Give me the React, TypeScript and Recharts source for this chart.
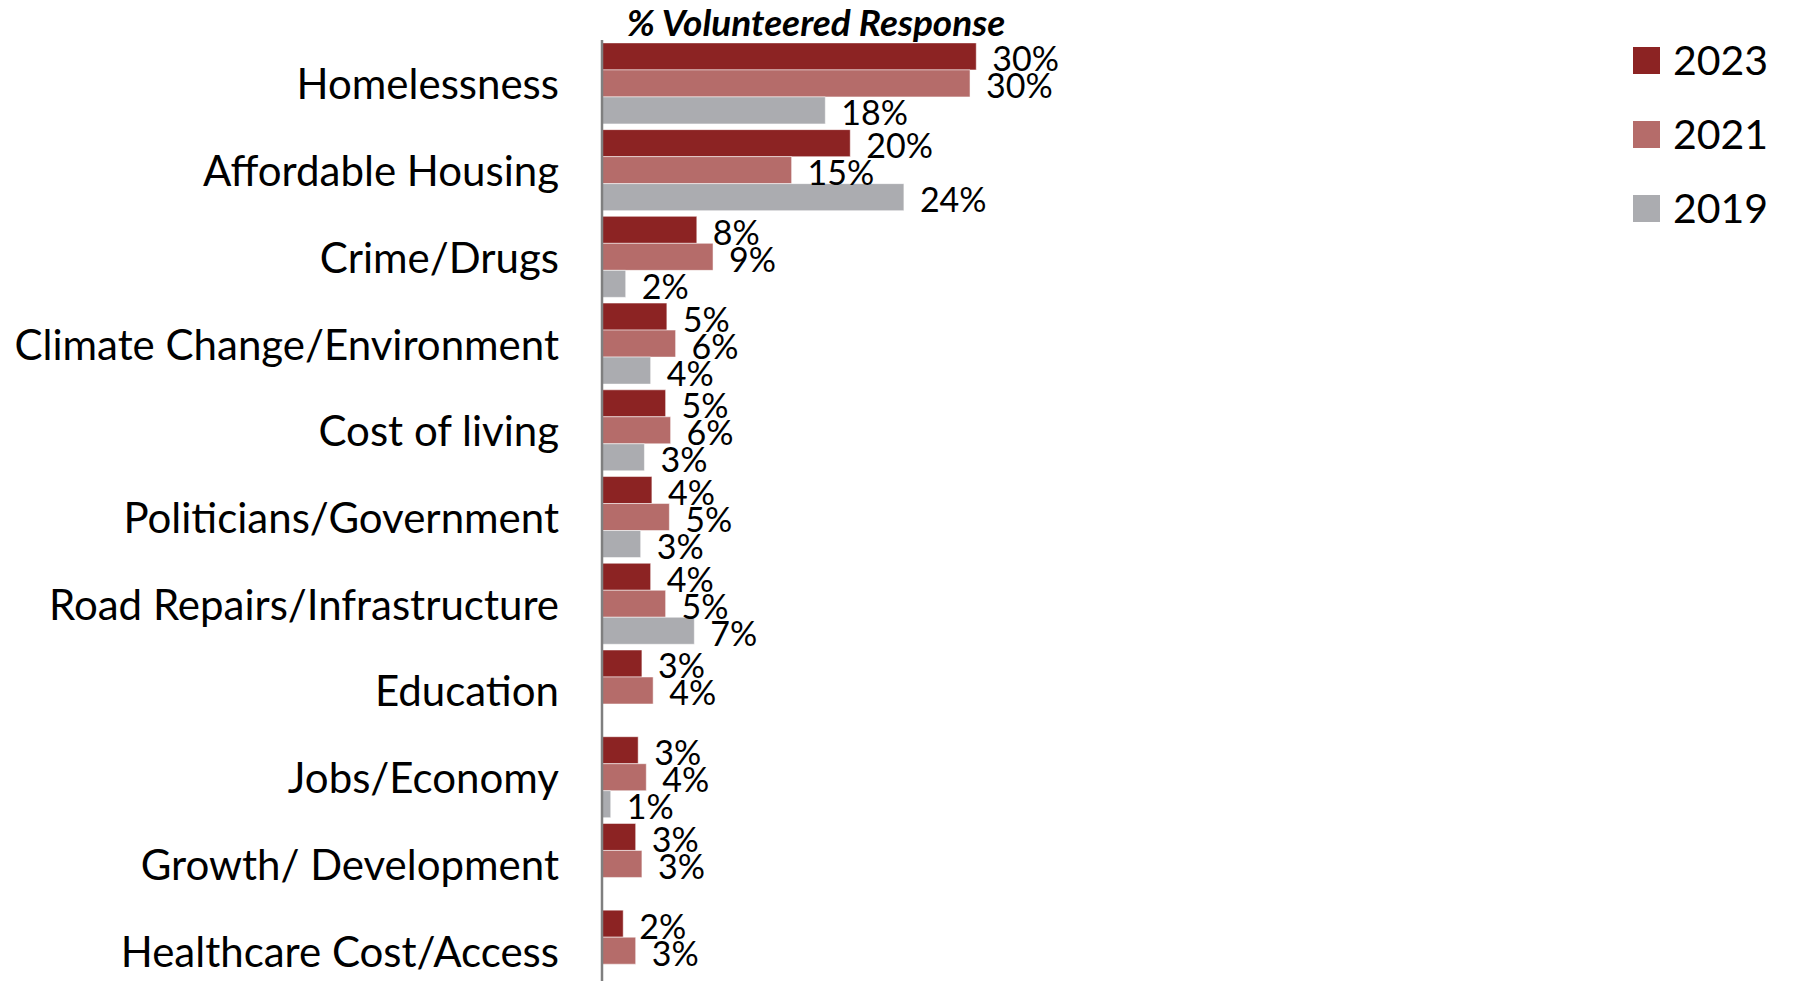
import React from 'react';
import { BarChart, Bar, XAxis, YAxis, LabelList } from 'recharts';

const categories = [
  'Homelessness',
  'Affordable Housing',
  'Crime/Drugs',
  'Climate Change/Environment',
  'Cost of living',
  'Politicians/Government',
  'Road Repairs/Infrastructure',
  'Education',
  'Jobs/Economy',
  'Growth/ Development',
  'Healthcare Cost/Access',
];

const values2023 = [30.0, 19.9, 7.6, 5.2, 5.1, 4.0, 3.9, 3.2, 2.9, 2.7, 1.7];
const values2021 = [29.5, 15.2, 8.9, 5.9, 5.5, 5.4, 5.1, 4.1, 3.55, 3.2, 2.7];
const values2019 = [17.9, 24.2, 1.9, 3.9, 3.4, 3.1, 7.4, null, 0.7, null, null];

const seriesNames = ['2023', '2021', '2019'];
const colors = ['#8C2323', '#B56C6A', '#ABACB0'];

const data = categories.map((name, i) => ({
  name,
  '2023': values2023[i],
  '2021': values2021[i],
  '2019': values2019[i],
}));

const FONT = 'Lato, "Open Sans", sans-serif';

const CategoryTick = (props: any) => {
  const { y, payload } = props;
  return (
    <text x={559} y={y} textAnchor="end" dominantBaseline="central" fontSize={42} fontFamily={FONT} fill="#000">
      {payload.value}
    </text>
  );
};

const ValueLabel = (props: any) => {
  const { x, y, width, height, value } = props;
  if (value == null) return null;
  return (
    <text
      x={x + width + 16}
      y={y + height / 2 + 1.5}
      dominantBaseline="central"
      fontSize={34}
      fontFamily={FONT}
      fill="#000"
    >
      {Math.round(value)}%
    </text>
  );
};

export default function App() {
  return (
    <div style={{ margin: -8, width: 1797, height: 989, overflow: 'hidden', position: 'relative', background: '#fff' }}>
      <div
        style={{
          position: 'absolute',
          left: 816,
          top: 21,
          transform: 'translate(-50%, -50%)',
          fontFamily: FONT,
          fontWeight: 'bold',
          fontStyle: 'italic',
          fontSize: 37,
          whiteSpace: 'nowrap',
          zIndex: 2,
        }}
      >
        % Volunteered Response
      </div>
      <div style={{ position: 'absolute', left: 1633, top: 23, fontFamily: FONT, zIndex: 2 }}>
        {seriesNames.map((s, i) => (
          <div key={s} style={{ display: 'flex', alignItems: 'center', height: 74 }}>
            <div style={{ width: 27, height: 27, background: colors[i], marginRight: 13 }} />
            <span style={{ fontSize: 41, lineHeight: '74px', color: '#000' }}>{s}</span>
          </div>
        ))}
      </div>
      <BarChart
        width={1797}
        height={1002}
        data={data}
        layout="vertical"
        margin={{ top: 40, right: 696, bottom: 8, left: 0 }}
        barCategoryGap={2.9}
        barGap={0}
      >
        <XAxis type="number" domain={[0, 40]} hide />
        <YAxis
          type="category"
          dataKey="name"
          width={602}
          tick={<CategoryTick />}
          tickLine={false}
          axisLine={{ stroke: '#7F7F7F', strokeWidth: 2.5 }}
          interval={0}
        />
        {seriesNames.map((s, i) => (
          <Bar key={s} dataKey={s} name={s} fill={colors[i]} stroke="#ffffff" strokeOpacity={0.5} strokeWidth={1} isAnimationActive={false}>
            <LabelList dataKey={s} content={<ValueLabel />} />
          </Bar>
        ))}
      </BarChart>
    </div>
  );
}
